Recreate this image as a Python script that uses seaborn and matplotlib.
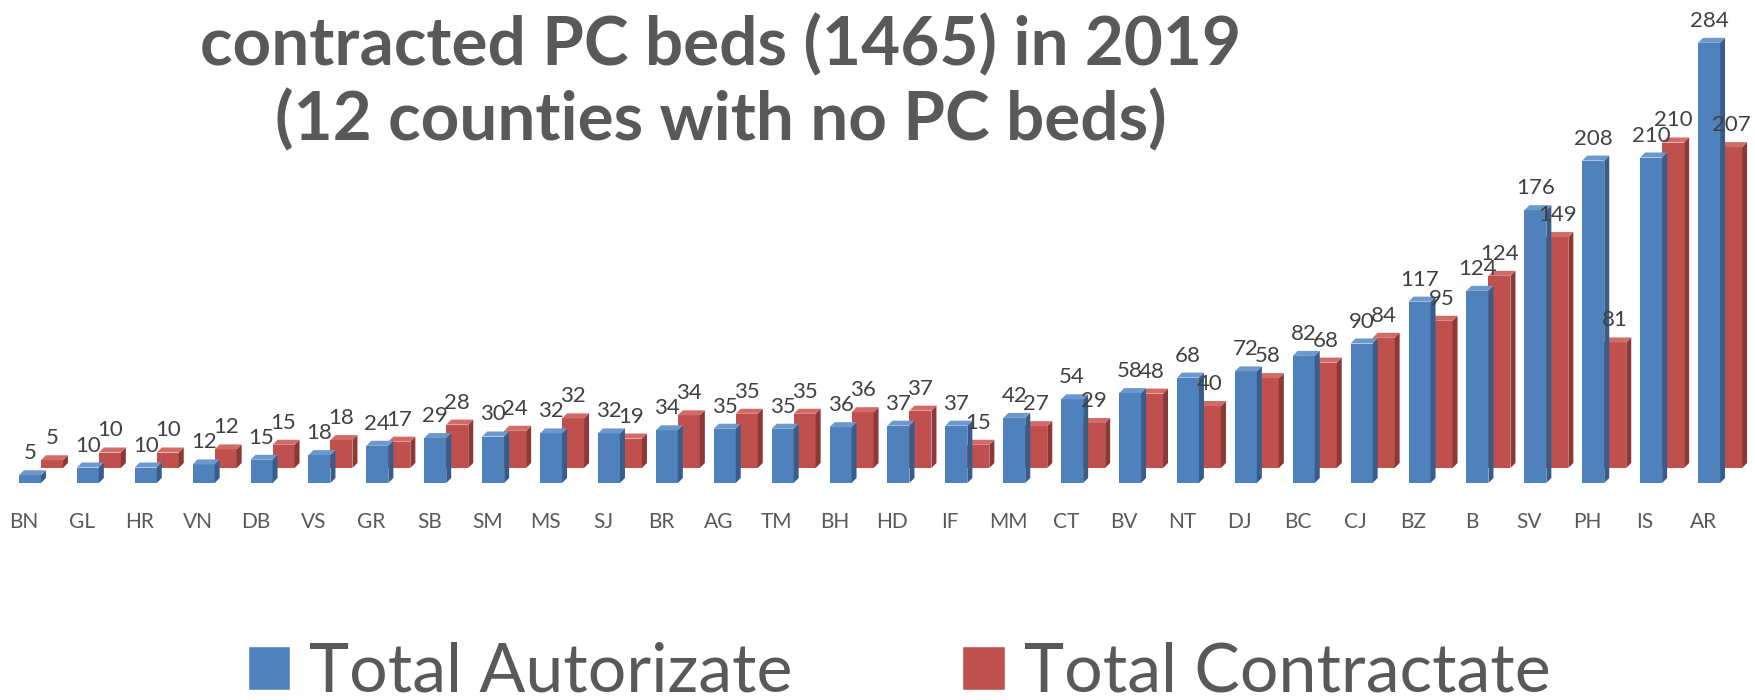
import pandas as pd
import seaborn as sns
import matplotlib.pyplot as plt
import matplotlib.transforms as mtransforms
from matplotlib.patches import Polygon, Patch

# -------------------- data --------------------
counties = ["BN", "GL", "HR", "VN", "DB", "VS", "GR", "SB", "SM", "MS",
            "SJ", "BR", "AG", "TM", "BH", "HD", "IF", "MM", "CT", "BV",
            "NT", "DJ", "BC", "CJ", "BZ", "B", "SV", "PH", "IS", "AR"]
autorizate = [5, 10, 10, 12, 15, 18, 24, 29, 30, 32,
              32, 34, 35, 35, 36, 37, 37, 42, 54, 58,
              68, 72, 82, 90, 117, 124, 176, 208, 210, 284]
contractate = [5, 10, 10, 12, 15, 18, 17, 28, 24, 32,
               19, 34, 35, 35, 36, 37, 15, 27, 29, 48,
               40, 58, 68, 84, 95, 124, 149, 81, 210, 207]
series_names = ["Total Autorizate", "Total Contractate"]
title_lines = ["contracted PC beds (1465) in 2019", "(12 counties with no PC beds)"]

BLUE, RED = "#4F81BD", "#C0504D"
SIDE = {BLUE: "#385D8A", RED: "#8C3836"}
TOP = {BLUE: "#6D98CC", RED: "#D06B68"}
GREY = "#595959"

df = pd.DataFrame({
    "county": counties * 2,
    "beds": autorizate + contractate,
    "series": [series_names[0]] * len(counties) + [series_names[1]] * len(counties),
})

sns.set_theme(style="white")
plt.rcParams['font.family'] = ['Lato', 'DejaVu Sans']

W, H = 1756, 700
fig = plt.figure(figsize=(W / 100, H / 100), dpi=100)
ax = fig.add_axes([12 / W, 217 / H, 1737 / W, 465 / H])

sns.barplot(data=df, x="county", y="beds", hue="series", palette=[BLUE, RED],
            width=0.76, saturation=1, errorbar=None, legend=False,
            linewidth=0, ax=ax)
ax.set_xlim(-0.5, len(counties) - 0.5)
ax.set_ylim(0, 300)
ax.set_yticks([])
ax.set_xlabel("")
ax.set_ylabel("")
sns.despine(ax=ax, left=True, bottom=True)

# red series sits one row "behind" -> shift it up a bit
back = ax.transData + mtransforms.ScaledTranslation(0, 0.15, fig.dpi_scale_trans)
transforms = [ax.transData, back]
depth = 5  # pixels for the fake 3d faces

for k, (cont, vals) in enumerate(zip(ax.containers, [autorizate, contractate])):
    tr = transforms[k]
    col = [BLUE, RED][k]
    z = 3 - k
    for bar, v in zip(cont, vals):
        bar.set_transform(tr)
        bar.set_zorder(z)
        x0, x1 = bar.get_x(), bar.get_x() + bar.get_width()
        (px0, py0), (px1, py1) = tr.transform([(x0, 0), (x1, v)])
        side = [(px1, py0), (px1 + depth, py0 + depth), (px1 + depth, py1 + depth), (px1, py1)]
        top = [(px0, py1), (px1, py1), (px1 + depth, py1 + depth), (px0 + depth, py1 + depth)]
        for pts, c in [(side, SIDE[col]), (top, TOP[col])]:
            ax.add_patch(Polygon(pts, closed=True, facecolor=c, edgecolor="none",
                                 transform=mtransforms.IdentityTransform(), zorder=z))
        ax.annotate(str(v), xy=((x0 + x1) / 2, v), xycoords=tr,
                    xytext=(0, 12), textcoords="offset pixels",
                    ha="center", va="bottom", fontsize=16, color="#404040",
                    zorder=5, annotation_clip=False)

# tick labels
ax.tick_params(axis="x", length=0, pad=21, labelsize=15, labelcolor=GREY)
shift = mtransforms.ScaledTranslation(-0.17, 0, fig.dpi_scale_trans)
for lbl in ax.get_xticklabels():
    lbl.set_transform(lbl.get_transform() + shift)

# title (top part of it is cropped in the original)
fig.text(721 / W, 1 - 65 / H, title_lines[0], ha="center", va="baseline",
         fontsize=48.5, fontweight="bold", color=GREY)
fig.text(721 / W, 1 - 140 / H, title_lines[1], ha="center", va="baseline",
         fontsize=48.5, fontweight="bold", color=GREY)

# legend
handles = [Patch(facecolor=BLUE), Patch(facecolor=RED)]
fig.legend(handles, series_names, loc="center", bbox_to_anchor=(899 / W, 1 - 673 / H),
           ncol=2, frameon=False, fontsize=49, labelcolor=GREY,
           handlelength=0.62, handleheight=0.62, handletextpad=0.28,
           columnspacing=2.5, borderpad=0, borderaxespad=0)

fig.savefig("out.png", dpi=100)
